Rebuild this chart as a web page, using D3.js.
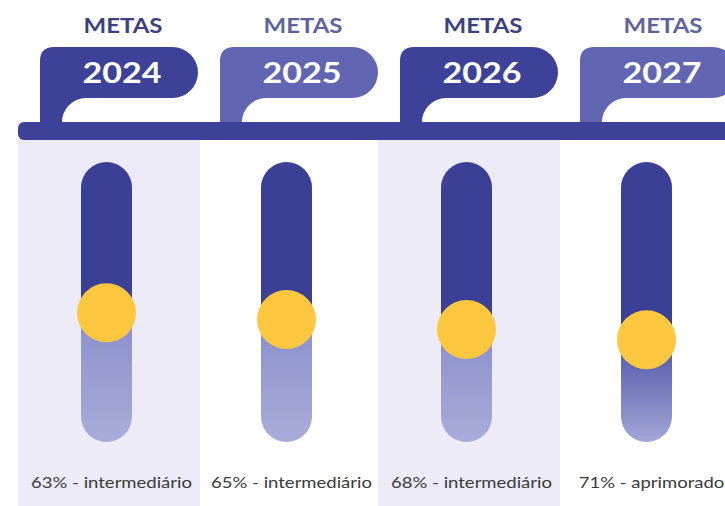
<!DOCTYPE html>
<html>
<head>
<meta charset="utf-8">
<script src="https://cdn.jsdelivr.net/npm/d3@7/dist/d3.min.js"></script>
<style>
  html, body { margin: 0; padding: 0; background: #ffffff; }
  svg { display: block; }
</style>
</head>
<body>
<svg id="chart" width="725" height="506"></svg>
<script>
// ---- data ----
const years = ["2024", "2025", "2026", "2027"];
const values = [63, 65, 68, 71];
const levels = ["intermediário", "intermediário", "intermediário", "aprimorado"];
const headerLabel = "METAS";

// ---- layout ----
const W = 725, H = 506;
const svg = d3.select("#chart");
const defs = svg.append("defs");

const x = d3.scaleBand().domain(years).range([18, 18 + 180 * years.length]);
const bw = x.bandwidth();
const barTop = 122, barBottom = 140;
const tubeTop = 162, tubeBottom = 442, tubeW = 51;
const knobR = 29.5;
const yKnob = d3.scaleLinear().domain([60, 75]).range([302.7, 353.1]);

const darkBlue = "#3d4298", lightBlue = "#6266b2";
const metasDark = "#3d4080", metasLight = "#60639b";

const data = years.map((y, i) => ({ year: y, value: values[i], level: levels[i], i }));

// gradients for lower tube part
const grads = {
  "intermediário": ["#8a8fcc", "#a9acd9"],
  "aprimorado": ["#4f54a7", "#a3a7d7"]
};
Object.entries(grads).forEach(([k, c], j) => {
  const g = defs.append("linearGradient").attr("id", "lg" + j)
    .attr("x1", 0).attr("x2", 0).attr("y1", 0).attr("y2", 1);
  g.append("stop").attr("offset", "0%").attr("stop-color", c[0]);
  g.append("stop").attr("offset", "100%").attr("stop-color", c[1]);
  grads[k].id = "lg" + j;
});

// column background bands (alternating)
svg.selectAll("rect.band").data(data.filter(d => d.i % 2 === 0)).join("rect")
  .attr("class", "band")
  .attr("x", d => x(d.year)).attr("y", barBottom)
  .attr("width", bw + 2).attr("height", H - barBottom)
  .attr("fill", "#ecebf7");

// tabs
function tabPath(x0) {
  const top = 47, bot = 98, right = x0 + 158, r1 = 14, r2 = (bot - top) / 2, footW = 22, r3 = 24;
  return `M${x0},${barTop + 4} L${x0},${top + r1} Q${x0},${top} ${x0 + r1},${top}
    L${right - r2},${top} A${r2},${r2} 0 0 1 ${right - r2},${bot}
    L${x0 + footW + r3},${bot} A${r3},${r3} 0 0 0 ${x0 + footW},${barTop + 1}
    L${x0 + footW},${barTop + 4} Z`;
}
svg.selectAll("path.tab").data(data).join("path")
  .attr("class", "tab")
  .attr("d", d => tabPath(x(d.year) + 22))
  .attr("fill", d => d.i % 2 === 0 ? darkBlue : lightBlue);

// horizontal bar
svg.append("rect")
  .attr("x", 18).attr("y", barTop).attr("width", W + 20).attr("height", barBottom - barTop)
  .attr("rx", 6).attr("fill", darkBlue);

// helper: horizontally stretched, centred text
function stretchText(sel, targetW) {
  let sx = 1;
  sel.each(function (d, k) {
    if (k === 0) { const w = this.getComputedTextLength(); sx = targetW / w; }
  });
  sel.attr("transform", function () {
    return `translate(${+this.getAttribute("data-x")},${+this.getAttribute("data-y")}) scale(${sx},1)`;
  });
}

// METAS headers
const metas = svg.selectAll("text.metas").data(data).join("text")
  .attr("class", "metas")
  .attr("data-x", d => x(d.year) + 22 + 83).attr("data-y", 33)
  .attr("text-anchor", "middle")
  .attr("font-family", "Lato, 'Open Sans', sans-serif")
  .attr("font-weight", 700).attr("font-size", 21)
  .attr("fill", d => d.i % 2 === 0 ? metasDark : metasLight)
  .text(headerLabel);
stretchText(metas, 79);

// year labels
const yrs = svg.selectAll("text.year").data(data).join("text")
  .attr("class", "year")
  .attr("data-x", d => x(d.year) + 22 + 82).attr("data-y", 83)
  .attr("text-anchor", "middle")
  .attr("font-family", "Lato, 'Open Sans', sans-serif")
  .attr("font-weight", 700).attr("font-size", 29.5)
  .attr("fill", "#ffffff")
  .text(d => d.year);
stretchText(yrs, 79);

// thermometers
const th = svg.selectAll("g.thermo").data(data).join("g")
  .attr("class", "thermo")
  .attr("transform", d => `translate(${x(d.year) + 88.5},0)`);

th.each(function (d) {
  const g = d3.select(this);
  const cy = yKnob(d.value);
  const cid = "clip" + d.i;
  defs.append("clipPath").attr("id", cid).append("rect")
    .attr("x", -tubeW / 2).attr("y", tubeTop).attr("width", tubeW)
    .attr("height", tubeBottom - tubeTop).attr("rx", tubeW / 2);
  const cg = g.append("g").attr("clip-path", `url(#${cid})`);
  cg.append("rect")
    .attr("x", -tubeW / 2).attr("y", tubeTop).attr("width", tubeW)
    .attr("height", cy - tubeTop).attr("fill", "#3b4096");
  cg.append("rect")
    .attr("x", -tubeW / 2).attr("y", cy).attr("width", tubeW)
    .attr("height", tubeBottom - cy).attr("fill", `url(#${grads[d.level].id})`);
  g.append("circle").attr("cx", 0).attr("cy", cy).attr("r", knobR).attr("fill", "#fdc83f");
});

// value labels
const labels = svg.selectAll("text.lab").data(data).join("text")
  .attr("class", "lab")
  .attr("data-x", d => x(d.year) + 93.5).attr("data-y", 488)
  .attr("text-anchor", "middle")
  .attr("font-family", "Lato, 'Open Sans', sans-serif")
  .attr("font-weight", 400).attr("font-size", 14.5)
  .attr("fill", "#3a3a3a")
  .text(d => `${d.value}% - ${d.level}`);
stretchText(labels, 161);
</script>
</body>
</html>
